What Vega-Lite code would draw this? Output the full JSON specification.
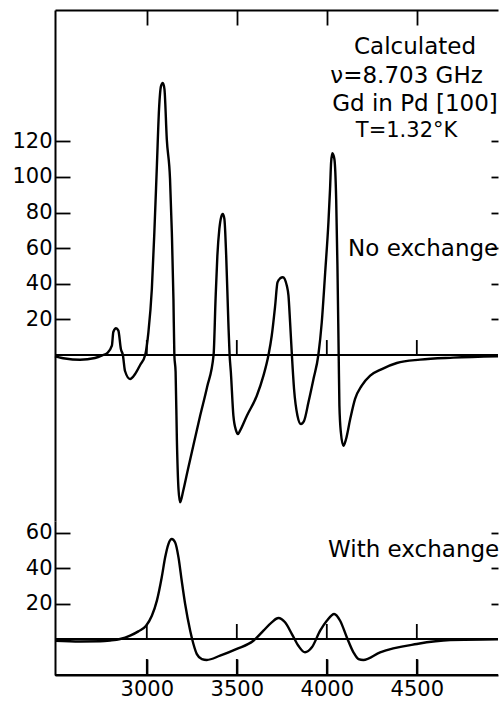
{
  "$schema": "https://vega.github.io/schema/vega-lite/v6.json",
  "background": "white",
  "padding": {"left": 11, "top": 9, "right": 0, "bottom": 0},
  "spacing": 0,
  "config": {
    "view": {"stroke": null},
    "axis": {"labelFont": "DejaVu Sans", "labelColor": "black", "tickColor": "black", "domainColor": "black", "grid": false, "tickWidth": 1.8, "domainWidth": 2}
  },
  "datasets": {
    "top": [
      {"G": 2490, "A": -0.73}, {"G": 2546, "A": -1.97}, {"G": 2629, "A": -2.64}, {"G": 2712, "A": -1.69},
      {"G": 2757, "A": 0}, {"G": 2780, "A": 1.1}, {"G": 2806, "A": 5.2}, {"G": 2814, "A": 12.9},
      {"G": 2829, "A": 15.0}, {"G": 2842, "A": 13.7}, {"G": 2856, "A": 3.4}, {"G": 2867, "A": 0},
      {"G": 2879, "A": -9.0}, {"G": 2907, "A": -13.5}, {"G": 2935, "A": -10.7}, {"G": 2963, "A": -5.6},
      {"G": 2991, "A": 0}, {"G": 3009, "A": 12.9}, {"G": 3028, "A": 37.1}, {"G": 3042, "A": 69.1},
      {"G": 3056, "A": 106.3}, {"G": 3068, "A": 138.2}, {"G": 3079, "A": 151.0}, {"G": 3089, "A": 152.8},
      {"G": 3098, "A": 149.4}, {"G": 3111, "A": 121.3}, {"G": 3129, "A": 98.9}, {"G": 3139, "A": 69.1},
      {"G": 3148, "A": 31.5}, {"G": 3153, "A": 0}, {"G": 3160, "A": -9.6}, {"G": 3167, "A": -47.2},
      {"G": 3176, "A": -75.3}, {"G": 3185, "A": -82.8}, {"G": 3202, "A": -76.4}, {"G": 3229, "A": -64.0},
      {"G": 3263, "A": -48.9}, {"G": 3296, "A": -34.3}, {"G": 3335, "A": -18.0}, {"G": 3371, "A": 0},
      {"G": 3382, "A": 31.5}, {"G": 3392, "A": 55.8}, {"G": 3403, "A": 70.8}, {"G": 3413, "A": 77.4},
      {"G": 3422, "A": 79.2}, {"G": 3431, "A": 76.4}, {"G": 3441, "A": 55.8}, {"G": 3453, "A": 18.4},
      {"G": 3460, "A": 0}, {"G": 3467, "A": -9.7}, {"G": 3481, "A": -34.1}, {"G": 3496, "A": -42.5},
      {"G": 3506, "A": -44.4}, {"G": 3518, "A": -42.5}, {"G": 3556, "A": -34.1}, {"G": 3611, "A": -22.9},
      {"G": 3648, "A": -11.6}, {"G": 3676, "A": 0}, {"G": 3694, "A": 10.8}, {"G": 3713, "A": 27.7},
      {"G": 3726, "A": 40.8}, {"G": 3741, "A": 43.1}, {"G": 3756, "A": 43.7}, {"G": 3778, "A": 38.9},
      {"G": 3787, "A": 33.3}, {"G": 3796, "A": 18.4}, {"G": 3806, "A": 0}, {"G": 3818, "A": -19.1},
      {"G": 3837, "A": -34.1}, {"G": 3856, "A": -38.8}, {"G": 3874, "A": -36.9}, {"G": 3898, "A": -26.6},
      {"G": 3926, "A": -13.5}, {"G": 3953, "A": 0}, {"G": 3972, "A": 18.4}, {"G": 3991, "A": 46.5},
      {"G": 4009, "A": 74.6}, {"G": 4018, "A": 93.3}, {"G": 4024, "A": 108.4}, {"G": 4031, "A": 113.3},
      {"G": 4042, "A": 110.1}, {"G": 4052, "A": 87.6}, {"G": 4059, "A": 50.2}, {"G": 4066, "A": 0},
      {"G": 4070, "A": -28.5}, {"G": 4078, "A": -43.4}, {"G": 4092, "A": -51.0}, {"G": 4107, "A": -47.2},
      {"G": 4130, "A": -36.0}, {"G": 4157, "A": -24.7}, {"G": 4194, "A": -17.2}, {"G": 4241, "A": -11.6},
      {"G": 4306, "A": -7.9}, {"G": 4389, "A": -4.5}, {"G": 4518, "A": -2.6}, {"G": 4703, "A": -1.5},
      {"G": 4951, "A": -0.7}
    ],
    "bottom": [
      {"G": 2491, "A": -0.96}, {"G": 2629, "A": -1.4}, {"G": 2741, "A": -1.3}, {"G": 2796, "A": -0.85},
      {"G": 2852, "A": 0}, {"G": 2907, "A": 1.9}, {"G": 2953, "A": 4.3}, {"G": 2996, "A": 7.5},
      {"G": 3028, "A": 13.1}, {"G": 3056, "A": 21.6}, {"G": 3083, "A": 34.8}, {"G": 3102, "A": 46.0},
      {"G": 3120, "A": 53.5}, {"G": 3139, "A": 56.3}, {"G": 3157, "A": 54.5}, {"G": 3176, "A": 46.0},
      {"G": 3194, "A": 32.8}, {"G": 3213, "A": 19.7}, {"G": 3241, "A": 4.7}, {"G": 3259, "A": -2.8},
      {"G": 3278, "A": -8.5}, {"G": 3306, "A": -11.3}, {"G": 3333, "A": -11.8}, {"G": 3407, "A": -9.4},
      {"G": 3500, "A": -5.6}, {"G": 3592, "A": -1.0}, {"G": 3648, "A": 4.7}, {"G": 3694, "A": 9.4},
      {"G": 3731, "A": 11.8}, {"G": 3768, "A": 9.4}, {"G": 3806, "A": 2.8}, {"G": 3842, "A": -3.8},
      {"G": 3879, "A": -7.5}, {"G": 3917, "A": -4.7}, {"G": 3963, "A": 4.7}, {"G": 4000, "A": 10.3},
      {"G": 4041, "A": 14.1}, {"G": 4074, "A": 10.3}, {"G": 4111, "A": 1.0}, {"G": 4148, "A": -7.5},
      {"G": 4176, "A": -11.3}, {"G": 4203, "A": -11.8}, {"G": 4296, "A": -7.5}, {"G": 4500, "A": -2.8},
      {"G": 4685, "A": -0.6}, {"G": 4951, "A": -0.2}
    ],
    "ticks": [{"G": 3000}, {"G": 3500}, {"G": 4000}, {"G": 4500}],
    "one": [{}]
  },
  "vconcat": [
    {
      "width": 443,
      "height": 511,
      "resolve": {"axis": {"x": "independent", "y": "independent"}},
      "layer": [
        {
          "data": {"name": "top"},
          "mark": {"type": "line", "interpolate": "monotone", "color": "black", "strokeWidth": 2.4},
          "encoding": {
            "x": {"field": "G", "type": "quantitative", "scale": {"domain": [2490, 4951], "nice": false, "zero": false},
                  "axis": {"orient": "top", "values": [3000, 3500, 4000, 4500], "labels": false, "tickSize": -15, "title": null}},
            "y": {"field": "A", "type": "quantitative", "scale": {"domain": [-93.26, 193.8], "nice": false, "zero": false},
                  "axis": {"orient": "left", "values": [20, 40, 60, 80, 100, 120], "tickSize": -15, "labelPadding": 18, "labelFontSize": 21, "title": null}}
          }
        },
        {
          "data": {"name": "one"},
          "mark": {"type": "rule", "color": "black", "strokeWidth": 1.8},
          "encoding": {
            "y": {"datum": 0, "axis": {"orient": "right", "values": [20, 40, 60, 80, 100, 120], "tickSize": -7, "labels": false, "domain": false, "title": null}}
          }
        },
        {
          "data": {"name": "ticks"},
          "mark": {"type": "rule", "color": "black", "strokeWidth": 1.8},
          "encoding": {
            "x": {"field": "G", "type": "quantitative", "axis": null},
            "y": {"datum": 0, "axis": null},
            "y2": {"datum": 8.4}
          }
        },
        {
          "data": {"name": "one"},
          "mark": {"type": "text", "text": "Calculated", "font": "DejaVu Sans", "fontSize": 23, "align": "center", "baseline": "middle", "color": "black"},
          "encoding": {"x": {"datum": 4490, "axis": null}, "y": {"datum": 173.2, "axis": null}}
        },
        {
          "data": {"name": "one"},
          "mark": {"type": "text", "text": "ν=8.703 GHz", "font": "DejaVu Sans", "fontSize": 23, "align": "center", "baseline": "middle", "color": "black"},
          "encoding": {"x": {"datum": 4443, "axis": null}, "y": {"datum": 156.9, "axis": null}}
        },
        {
          "data": {"name": "one"},
          "mark": {"type": "text", "text": "Gd in Pd [100]", "font": "DejaVu Sans", "fontSize": 23, "align": "center", "baseline": "middle", "color": "black"},
          "encoding": {"x": {"datum": 4490, "axis": null}, "y": {"datum": 141, "axis": null}}
        },
        {
          "data": {"name": "one"},
          "mark": {"type": "text", "text": "T=1.32°K", "font": "DejaVu Sans", "fontSize": 21, "align": "center", "baseline": "middle", "color": "black"},
          "encoding": {"x": {"datum": 4443, "axis": null}, "y": {"datum": 126, "axis": null}}
        },
        {
          "data": {"name": "one"},
          "mark": {"type": "text", "text": "No exchange", "font": "DejaVu Sans", "fontSize": 23, "align": "left", "baseline": "middle", "color": "black"},
          "encoding": {"x": {"datum": 4118, "axis": null}, "y": {"datum": 59.6, "axis": null}}
        }
      ]
    },
    {
      "width": 443,
      "height": 154,
      "resolve": {"axis": {"x": "independent", "y": "independent"}},
      "layer": [
        {
          "data": {"name": "bottom"},
          "mark": {"type": "line", "interpolate": "monotone", "color": "black", "strokeWidth": 2.4},
          "encoding": {
            "x": {"field": "G", "type": "quantitative", "scale": {"domain": [2490, 4951], "nice": false, "zero": false},
                  "axis": {"orient": "bottom", "values": [3000, 3500, 4000, 4500], "format": "d", "tickSize": -16, "labelPadding": 36.5, "labelBaseline": "alphabetic", "labelFontSize": 21, "title": null}},
            "y": {"field": "A", "type": "quantitative", "scale": {"domain": [-20.28, 66.48], "nice": false, "zero": false},
                  "axis": {"orient": "left", "values": [20, 40, 60], "tickSize": -15, "labelPadding": 18, "labelFontSize": 21, "title": null}}
          }
        },
        {
          "data": {"name": "one"},
          "mark": {"type": "rule", "color": "black", "strokeWidth": 1.8},
          "encoding": {
            "y": {"datum": 0, "axis": {"orient": "right", "values": [20, 40, 60], "tickSize": -7, "labels": false, "domain": false, "title": null}}
          }
        },
        {
          "data": {"name": "one"},
          "mark": {"type": "rule", "color": "black", "strokeWidth": 2},
          "encoding": {
            "y": {"datum": -20.28, "axis": null}
          }
        },
        {
          "data": {"name": "ticks"},
          "mark": {"type": "rule", "color": "black", "strokeWidth": 1.8},
          "encoding": {
            "x": {"field": "G", "type": "quantitative", "axis": null},
            "y": {"datum": 0, "axis": null},
            "y2": {"datum": 8.45}
          }
        },
        {
          "data": {"name": "ticks"},
          "mark": {"type": "rule", "color": "black", "strokeWidth": 1.8},
          "encoding": {
            "x": {"field": "G", "type": "quantitative", "axis": null},
            "y": {"datum": -20.28, "axis": null},
            "y2": {"datum": -11.27}
          }
        },
        {
          "data": {"name": "one"},
          "mark": {"type": "text", "text": "With exchange", "font": "DejaVu Sans", "fontSize": 23, "align": "left", "baseline": "middle", "color": "black"},
          "encoding": {"x": {"datum": 4007, "axis": null}, "y": {"datum": 50.3, "axis": null}}
        }
      ]
    }
  ]
}
